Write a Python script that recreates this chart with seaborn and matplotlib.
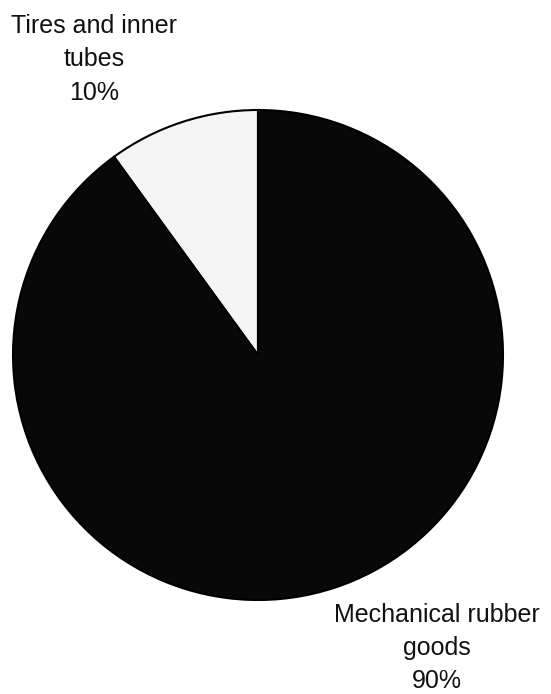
import matplotlib
matplotlib.use("Agg")
import matplotlib.pyplot as plt
import seaborn as sns

# Rubber goods production split
categories = ["Tires and inner\ntubes", "Mechanical rubber\ngoods"]
shares = [10, 90]
colors = ["#f5f5f5", "#080808"]

sns.set_theme(style="white")
plt.rcParams["font.family"] = ["Liberation Sans", "DejaVu Sans"]

W, H = 551, 694
fig = plt.figure(figsize=(W / 100, H / 100), dpi=100)
ax = fig.add_axes([0, 0, 1, 1])

cx, cy, r = 258, H - 355, 245
ax.pie(shares, colors=colors, startangle=90, counterclock=True,
       center=(cx, cy), radius=r, frame=True,
       wedgeprops=dict(edgecolor="black", linewidth=1.5))
ax.set_xlim(0, W)
ax.set_ylim(0, H)
ax.set_aspect("auto")
ax.axis("off")

label_pos = [(94, H - 59), (437, H - 648)]
for name, val, (x, y) in zip(categories, shares, label_pos):
    ax.text(x, y, f"{name}\n{val}%", ha="center", va="center",
            fontsize=18, linespacing=1.5, color="#111111")

fig.savefig("out.png", dpi=100, facecolor="white")
